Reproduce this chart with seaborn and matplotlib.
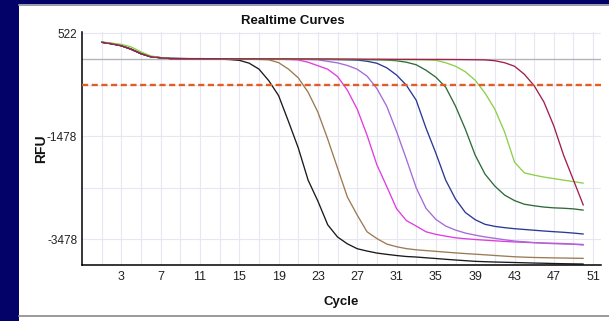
import numpy as np
import pandas as pd
import matplotlib
matplotlib.use("Agg")
import matplotlib.pyplot as plt
import seaborn as sns
from matplotlib.patches import Rectangle
from matplotlib.lines import Line2D

# ---------------- data ----------------
CYCLES = list(range(1, 51))

BLACK = [346, 317, 278, 210, 123, 64, 45, 30, 28, 27,
         25, 22, 18, 10, -5, -60, -175, -400, -690, -1190,
         -1705, -2330, -2740, -3200, -3437, -3569, -3664, -3709, -3748, -3773,
         -3796, -3815, -3825, -3840, -3854, -3869, -3883, -3896, -3909, -3916,
         -3922, -3927, -3932, -3937, -3942, -3946, -3951, -3955, -3958, -3961]

BROWN = [346, 317, 278, 210, 123, 64, 45, 30, 28, 27,
         26, 25, 24, 22, 20, 16, 12, 5, -50, -175,
         -345, -624, -1012, -1536, -2099, -2661, -3011, -3335, -3467, -3573,
         -3625, -3662, -3685, -3700, -3715, -3730, -3745, -3758, -3770, -3782,
         -3795, -3808, -3820, -3828, -3834, -3838, -3842, -3845, -3848, -3851]

MAGENTA = [346, 317, 278, 210, 123, 64, 45, 30, 28, 27,
           26, 25, 24, 23, 22, 21, 20, 18, 15, 10,
           2, -42, -110, -178, -320, -586, -954, -1459, -2035, -2454,
           -2886, -3117, -3224, -3335, -3385, -3420, -3452, -3470, -3485, -3498,
           -3510, -3522, -3532, -3540, -3547, -3553, -3558, -3563, -3575, -3593]

VIOLET = [346, 317, 278, 210, 123, 64, 45, 30, 28, 27,
          26, 25, 24, 23, 22, 21, 20, 19, 18, 16,
          14, 10, 4, -25, -55, -105, -178, -312, -553, -896,
          -1387, -1924, -2481, -2881, -3094, -3224, -3302, -3360, -3400, -3435,
          -3462, -3490, -3515, -3530, -3545, -3558, -3566, -3572, -3576, -3580]

BLUE = [346, 317, 278, 210, 123, 64, 45, 30, 28, 27,
        26, 25, 24, 23, 22, 21, 20, 19, 18, 17,
        16, 15, 14, 12, 10, 6, 0, -23, -62, -150,
        -290, -489, -780, -1323, -1808, -2332, -2700, -2960, -3100, -3190,
        -3230, -3255, -3275, -3290, -3305, -3320, -3333, -3345, -3360, -3378]

DKGREEN = [346, 317, 280, 215, 128, 66, 46, 30, 28, 27,
           26, 25, 24, 23, 22, 21, 20, 19, 18, 17,
           16, 15, 14, 13, 12, 11, 10, 8, 5, 0,
           -13, -42, -91, -198, -333, -527, -896, -1342, -1847, -2215,
           -2448, -2623, -2729, -2800, -2830, -2855, -2870, -2878, -2890, -2914]

LTGREEN = [352, 330, 305, 255, 160, 80, 50, 32, 30, 29,
           28, 27, 26, 25, 24, 23, 22, 21, 20, 19,
           18, 17, 16, 15, 14, 13, 12, 11, 10, 9,
           8, 7, 6, 4, -4, -52, -120, -227, -392, -640,
           -954, -1400, -1982, -2190, -2235, -2273, -2302, -2332, -2361, -2390]

MAROON = [346, 317, 278, 210, 123, 64, 45, 30, 29, 28,
          28, 27, 26, 26, 25, 24, 24, 23, 22, 22,
          21, 20, 20, 19, 18, 18, 17, 16, 16, 15,
          14, 14, 13, 12, 12, 11, 10, 8, 6, 3,
          -13, -52, -120, -275, -498, -818, -1280, -1850, -2332, -2817]

WELLS = ["A1", "A2", "A3", "A4", "A5", "A6", "A7", "A8"]
SERIES = [BLACK, BROWN, MAGENTA, VIOLET, BLUE, DKGREEN, LTGREEN, MAROON]
COLORS = ["#1a1a1a", "#9c7a52", "#e03ce0", "#a56ad6",
          "#2a3896", "#2f6a38", "#8ccf4a", "#a01f4c"]

THRESHOLD = -490
BASELINE = 30
X_TICKS = [3, 7, 11, 15, 19, 23, 27, 31, 35, 39, 43, 47, 51]
X_GRID = [1, 5, 9, 13, 17, 21, 25, 29, 33, 37, 41, 45, 49]
Y_TICKS = [522, -1478, -3478]
Y_GRID = [-478, -2478]

TITLE = "Realtime Curves"
XLABEL = "Cycle"
YLABEL = "RFU"

# ---------------- build table ----------------
rows = []
for well, vals in zip(WELLS, SERIES):
    for c, v in zip(CYCLES, vals):
        rows.append((well, c, v))
df = pd.DataFrame(rows, columns=["Well", "Cycle", "RFU"])

sns.set_theme(style="white")
FONT = ['Liberation Sans', 'DejaVu Sans']
plt.rcParams['font.family'] = FONT

W, H = 609, 321
fig = plt.figure(figsize=(W / 100, H / 100), dpi=100)
fig.patch.set_facecolor("#020268")

# white panel with grey top/bottom rules
fig.add_artist(Rectangle((19 / W, 0), (W - 19) / W, (H - 3.5) / H,
                         transform=fig.transFigure, facecolor="white",
                         edgecolor="none", zorder=0))
fig.add_artist(Line2D([19 / W, 1], [1 - 4.8 / H] * 2, transform=fig.transFigure,
                      color="#9a9aa8", lw=1.4, zorder=1))
fig.add_artist(Line2D([19 / W, 1], [1 - 316.3 / H] * 2, transform=fig.transFigure,
                      color="#9a9a9a", lw=1.4, zorder=1))

left, right, top, bottom = 82, 601, 32, 265
ax = fig.add_axes([left / W, 1 - bottom / H, (right - left) / W, (bottom - top) / H])
ax.set_facecolor("white")
ax.set_axisbelow(True)

ax.axhline(BASELINE, color="#b4b4b8", lw=1.0, zorder=1)

sns.lineplot(data=df, x="Cycle", y="RFU", hue="Well",
             palette=dict(zip(WELLS, COLORS)), hue_order=WELLS,
             estimator=None, sort=False, linewidth=0.95, legend=False, ax=ax)

ax.axhline(THRESHOLD, color="#de5e28", lw=1.7, ls=(0, (2.6, 1.5)), zorder=4)

ax.set_xlim(-1, 51.8)
ax.set_ylim(-3980, 545)

ax.set_xticks(X_TICKS)
ax.set_xticklabels([str(t) for t in X_TICKS])
ax.set_yticks(Y_TICKS)
ax.set_yticklabels([str(t) for t in Y_TICKS])
ax.set_xticks(X_GRID, minor=True)
ax.set_yticks(Y_GRID, minor=True)
ax.grid(which="both", color="#e7e7f3", lw=0.8)
ax.tick_params(which="minor", length=0)
ax.tick_params(axis="x", which="major", direction="inout", length=5, width=0.9,
               color="black", labelsize=9, pad=2, labelcolor="#222222")
ax.tick_params(axis="y", which="major", direction="out", length=3, width=0.9,
               color="black", labelsize=8.5, pad=0.5, labelcolor="#222222")

for s in ["top", "right"]:
    ax.spines[s].set_visible(False)
for s in ["left", "bottom"]:
    ax.spines[s].set_color("black")
    ax.spines[s].set_linewidth(1.1)

ax.set_xlabel("")
ax.set_ylabel("")

fig.text(293 / W, 1 - 21 / H, TITLE, ha="center", va="center",
         fontsize=9.5, fontweight="bold", color="#111111")
fig.text(341.5 / W, 1 - 302 / H, XLABEL, ha="center", va="center",
         fontsize=9.5, fontweight="bold", color="#111111")
fig.text(41 / W, 1 - 149 / H, YLABEL, ha="center", va="center", rotation=90,
         fontsize=10, fontweight="bold", color="#111111")

fig.savefig("out.png", dpi=100, facecolor=fig.get_facecolor())
